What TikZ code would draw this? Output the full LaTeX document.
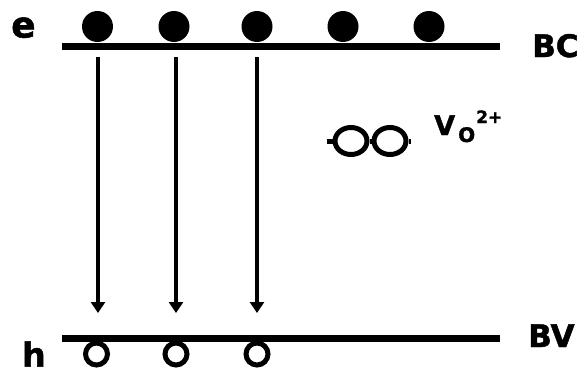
\documentclass[tikz,border=0pt]{standalone}
\usepackage{fontspec}
\setmainfont{DejaVu Sans}[BoldFeatures={FakeBold=1.5}]
\usetikzlibrary{arrows.meta,shapes.geometric}
\tikzset{
  band/.style={line width=7pt},
  elec/.style={circle,fill=black,inner sep=0pt,minimum size=31pt},
  hole/.style={circle,draw=black,line width=5pt,inner sep=0pt,minimum size=22pt},
  vac/.style={ellipse,draw=black,line width=5pt,inner sep=0pt,minimum width=32pt,minimum height=27pt},
  recomb/.style={line width=4pt,-{Triangle[width=14pt,length=11pt]}},
  lbl/.style={inner sep=0pt,anchor=base west,font=\bfseries}
}
\begin{document}
\begin{tikzpicture}[x=1pt,y=-1pt]
\useasboundingbox (0,0) rectangle (584,372);
% bands
\draw[band] (62,46) -- (500,46);
\draw[band] (62,338) -- (500,338);
% electrons
\node[elec] (e1) at (97.5,26.5) {};
\node[elec] (e2) at (174,26.5) {};
\node[elec] (e3) at (257,26.5) {};
\node[elec] (e4) at (343,26.5) {};
\node[elec] (e5) at (429,26.5) {};
% holes
\node[hole] (h1) at (96.5,354) {};
\node[hole] (h2) at (176,354) {};
\node[hole] (h3) at (257,354) {};
% recombination
\coordinate (a1s) at (98,57);
\coordinate (a1e) at (98,313);
\coordinate (a2s) at (176,57);
\coordinate (a2e) at (176,313);
\coordinate (a3s) at (257,57);
\coordinate (a3e) at (257,313);
\draw[recomb] (a1s) -- (a1e);
\draw[recomb] (a2s) -- (a2e);
\draw[recomb] (a3s) -- (a3e);
% oxygen vacancy
\node[vac] (v1) at (351,141) {};
\node[vac] (v2) at (390,141) {};
\coordinate (vl) at (327,141);
\coordinate (vr) at (411,141);
\draw[line width=5pt] (vl) -- (v1.west);
\draw[line width=5pt] (v1.east) -- (v2.west);
\draw[line width=5pt] (v2.east) -- (vr);
% labels
\node[lbl,font=\bfseries\fontsize{36}{40}\selectfont] (le) at (11,37.5) {e};
\node[lbl,font=\bfseries\fontsize{33}{38}\selectfont] (lh) at (22,366.5) {h};
\node[lbl,font=\bfseries\fontsize{31}{36}\selectfont] (lbc) at (532,57) {BC};
\node[lbl,font=\bfseries\fontsize{31}{36}\selectfont] (lbv) at (528,347) {BV};
\node[lbl,font=\bfseries\fontsize{27}{32}\selectfont] (lv) at (434,135) {V};
\node[lbl,font=\bfseries\fontsize{20}{24}\selectfont] (lvo) at (458,142) {O};
\node[lbl,font=\bfseries\fontsize{17}{20}\selectfont] (lvq) at (476,123) {2+};
\end{tikzpicture}
\end{document}
